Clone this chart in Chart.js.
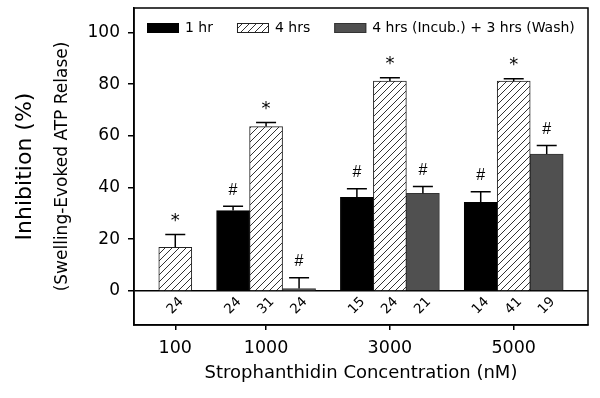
<!DOCTYPE html>
<html>
<head>
<meta charset="utf-8">
<script src="https://cdn.jsdelivr.net/npm/chart.js@4/dist/chart.umd.min.js"></script>
<style>
  html, body { margin: 0; padding: 0; background: #fff; }
</style>
</head>
<body>
<canvas id="chart" width="600" height="398"></canvas>
<script>
const concentrations = ['100', '1000', '3000', '5000']
const seriesLabels = ['1 hr', '4 hrs', '4 hrs (Incub.) + 3 hrs (Wash)']

// mean inhibition (%)
const oneHr = [null, 31.1, 36.2, 34.3]
const fourHrs = [16.9, 63.6, 81.2, 81.2]
const washed = [null, 0.9, 37.8, 53.0]

// upper error (SEM)
const oneHrErr = [null, 1.7, 3.3, 4.1]
const fourHrsErr = [4.9, 1.6, 1.3, 0.9]
const washedErr = [null, 4.2, 2.6, 3.3]

// n per bar
const oneHrN = [null, 24, 15, 14]
const fourHrsN = [24, 31, 24, 41]
const washedN = [null, 24, 21, 19]

// significance marks
const oneHrMark = [null, '#', '#', '#']
const fourHrsMark = ['*', '*', '*', '*']
const washedMark = [null, '#', '#', '#']

const yTicks = [0, 20, 40, 60, 80, 100]

const FONT = 'DejaVu Sans'
const GAP = 0.75  // gap between groups, in bar widths

// groups only take the room of the bars they have
function groupLayout() {
    let x = GAP
    const centers = concentrations.map((c, i) => {
        const n = [oneHr, fourHrs, washed].filter(s => s[i] !== null).length
        const center = x + n / 2
        x += n + GAP
        return center
    })
    return { centers, end: x }
}
const layout = groupLayout()

function makeHatch() {
    const c = document.createElement('canvas')
    c.width = 7
    c.height = 7
    const g = c.getContext('2d')
    g.fillStyle = '#fff'
    g.fillRect(0, 0, 7, 7)
    g.strokeStyle = '#333'
    g.lineWidth = 1
    g.beginPath()
    g.moveTo(0, 7); g.lineTo(7, 0)
    g.moveTo(-1, 1); g.lineTo(1, -1)
    g.moveTo(6, 8); g.lineTo(8, 6)
    g.stroke()
    return g.createPattern(c, 'repeat')
}

function toPoints(values) {
    return values.map((v, i) => ({ x: layout.centers[i], y: v }))
}

const barExtras = {
    id: 'barExtras',
    afterDatasetsDraw(chart) {
        const ctx = chart.ctx
        const y = chart.scales.y
        ctx.save()
        chart.data.datasets.forEach((ds, di) => {
            const meta = chart.getDatasetMeta(di)
            meta.data.forEach((bar, i) => {
                const v = ds.data[i].y
                if (v === null) return
                const top = y.getPixelForValue(v + ds.errors[i])
                ctx.strokeStyle = '#000'
                ctx.lineWidth = 1.5
                ctx.beginPath()
                ctx.moveTo(bar.x, bar.y)
                ctx.lineTo(bar.x, top)
                ctx.moveTo(bar.x - 10, top)
                ctx.lineTo(bar.x + 10, top)
                ctx.stroke()

                ctx.fillStyle = '#000'
                ctx.textAlign = 'center'
                ctx.textBaseline = 'middle'
                const mark = ds.marks[i]
                if (mark === '*') {
                    ctx.font = '18px ' + FONT
                    ctx.fillText(mark, bar.x, top - 13)
                } else if (mark) {
                    ctx.font = '16px "Liberation Sans"'
                    ctx.fillText(mark, bar.x, top - 16)
                }

                ctx.save()
                ctx.translate(bar.x, y.getPixelForValue(-5.8))
                ctx.rotate(-Math.PI / 4)
                ctx.font = '13.5px ' + FONT
                ctx.fillText(String(ds.counts[i]), 0, 0)
                ctx.restore()
            })
        })
        ctx.restore()
    },
    afterDraw(chart) {
        const ctx = chart.ctx
        const area = chart.chartArea
        ctx.save()
        ctx.strokeStyle = '#000'
        ctx.lineWidth = 1.5
        ctx.strokeRect(area.left, area.top, area.right - area.left, area.bottom - area.top)

        // legend inside the plot box
        let x = area.left + 13
        const y0 = area.top + 15
        ctx.font = '14px ' + FONT
        ctx.textBaseline = 'middle'
        ctx.textAlign = 'left'
        chart.data.datasets.forEach(ds => {
            ctx.fillStyle = ds.backgroundColor
            ctx.fillRect(x, y0, 32, 10)
            ctx.lineWidth = 1
            ctx.strokeStyle = ds.borderColor
            ctx.strokeRect(x + 0.5, y0 + 0.5, 31, 9)
            x += 32 + 6
            ctx.fillStyle = '#000'
            ctx.fillText(ds.label, x, y0 + 5)
            x += ctx.measureText(ds.label).width + 24
        })
        ctx.restore()
    }
}

const hatch = makeHatch()

new Chart(document.getElementById('chart'), {
    type: 'bar',
    data: {
        datasets: [
            {
                label: seriesLabels[0], data: toPoints(oneHr),
                backgroundColor: '#000', borderColor: '#000', borderWidth: 1,
                errors: oneHrErr, counts: oneHrN, marks: oneHrMark
            },
            {
                label: seriesLabels[1], data: toPoints(fourHrs),
                backgroundColor: hatch, borderColor: '#222', borderWidth: 1,
                errors: fourHrsErr, counts: fourHrsN, marks: fourHrsMark
            },
            {
                label: seriesLabels[2], data: toPoints(washed),
                backgroundColor: '#505050', borderColor: '#333', borderWidth: 1,
                errors: washedErr, counts: washedN, marks: washedMark
            }
        ]
    },
    options: {
        responsive: false,
        animation: false,
        layout: { padding: { top: 8, right: 12, left: 0, bottom: 0 } },
        datasets: { bar: { barThickness: 33, grouped: true } },
        plugins: { legend: { display: false }, tooltip: { enabled: false } },
        scales: {
            x: {
                type: 'linear',
                offset: false,
                min: 0,
                max: layout.end,
                afterBuildTicks: s => { s.ticks = layout.centers.map(v => ({ value: v })) },
                afterFit: s => { s.height = 73; s.paddingLeft = 0; s.paddingRight = 0 },
                ticks: {
                    callback: (v, i) => concentrations[i],
                    font: { family: FONT, size: 17.5 },
                    color: '#000',
                    padding: 8,
                    maxRotation: 0,
                    autoSkip: false
                },
                grid: { offset: false, drawOnChartArea: false, tickLength: 5, tickColor: '#000', lineWidth: 1.5 },
                border: { color: '#000', width: 1.5 },
                title: {
                    display: true,
                    text: 'Strophanthidin Concentration (nM)',
                    font: { family: FONT, size: 18 },
                    color: '#000',
                    padding: { top: 0, bottom: 14 }
                }
            },
            y: {
                min: -13.2,
                max: 109.5,
                weight: 0,
                afterBuildTicks: s => { s.ticks = yTicks.map(v => ({ value: v })) },
                afterFit: s => { s.width = 94; s.paddingTop = 0; s.paddingBottom = 0 },
                ticks: { font: { family: FONT, size: 17 }, color: '#000', padding: 8 },
                grid: {
                    color: c => (c.tick && c.tick.value === 0) ? '#000' : 'rgba(0,0,0,0)',
                    tickColor: '#000',
                    tickLength: 6,
                    lineWidth: 1.5
                },
                border: { color: '#000', width: 1.5 },
                title: {
                    display: true,
                    text: '(Swelling-Evoked ATP Relase)',
                    font: { family: FONT, size: 17 },
                    color: '#000',
                    padding: { top: 12, bottom: 0 }
                }
            },
            y2: {
                position: 'left',
                weight: 1,
                afterFit: s => { s.width = 40; s.paddingTop = 0; s.paddingBottom = 0 },
                grid: { display: false },
                border: { display: false },
                ticks: { display: false },
                title: {
                    display: true,
                    text: 'Inhibition (%)',
                    font: { family: FONT, size: 22 },
                    color: '#000',
                    padding: { top: 12, bottom: 0 }
                }
            }
        }
    },
    plugins: [barExtras]
})
</script>
</body>
</html>
